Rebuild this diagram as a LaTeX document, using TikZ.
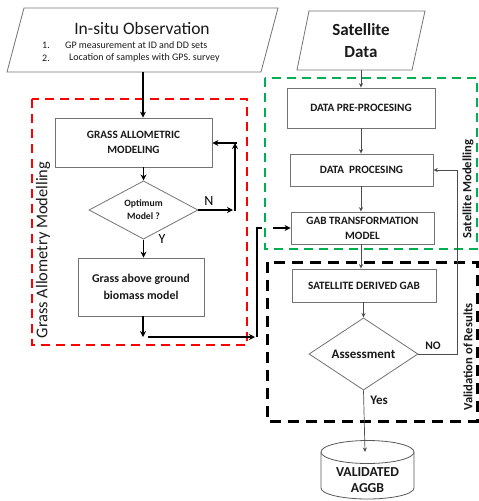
\documentclass[tikz,border=0pt]{standalone}
\usepackage{fontspec}
\setmainfont{Carlito}
\usetikzlibrary{shapes.geometric,arrows.meta}
\begin{document}
\begin{tikzpicture}[x=1pt,y=-1pt,
  box/.style={draw=black!55, line width=0.8pt, fill=white, align=center,
    font=\bfseries\fontsize{11.2}{13}\selectfont, text=black!90, inner sep=0},
  dec/.style={diamond, draw=black!55, line width=0.8pt, fill=white, align=center, inner sep=0, text=black!90},
  thickarr/.style={line width=1.8pt, -{Stealth[length=6pt,width=6pt]}},
  thickline/.style={line width=1.8pt},
  thinarr/.style={draw=black!70, line width=0.7pt, -{Stealth[length=4.5pt,width=4pt]}},
  grp/.style={line width=2.6pt, dash pattern=on 9pt off 6pt},
  lbl/.style={font=\bfseries\fontsize{12.6}{14}\selectfont, text=black!90},
]
\useasboundingbox (0,0) rectangle (479,501);
% group frames
\draw[grp, red] (32,99) rectangle (247,345);
\draw[grp, draw={rgb,255:red,0;green,176;blue,80}] (265,78) rectangle (477,249);
\draw[grp, black, line width=3pt, dash pattern=on 11pt off 7pt] (267,262) rectangle (477,421);
% group labels
\node[rotate=90, font=\fontsize{16.4}{18}\selectfont, text=black!90] (lgam) at (43,250) {Grass Allometry Modelling};
\node[rotate=90, lbl] (lsat) at (468,189) {Satellite Modelling};
\node[rotate=90, lbl] (lval) at (468,357) {Validation of Results};

% in-situ parallelogram
\draw[draw=black!55, line width=0.8pt] (24,8) -- (278,8) -- (261,72) -- (7,72) -- cycle;
\coordinate (insb) at (143,72);
\node[font=\fontsize{17.5}{20}\selectfont, text=black!90] (ins) at (142,28) {In-situ Observation};
\node[font=\fontsize{10}{12}\selectfont, text=black!90] (n1) at (46,45) {1.};
\node[font=\fontsize{10}{12}\selectfont, text=black!90] (n2) at (46,58) {2.};
\node[anchor=west, font=\fontsize{10}{12}\selectfont, text=black!90, inner sep=0] (t1) at (65,45) {GP measurement at ID and DD sets};
\node[anchor=west, font=\fontsize{10}{12}\selectfont, text=black!90, inner sep=0] (t2) at (69,58) {Location of samples with GPS. survey};

% satellite parallelogram
\draw[draw=black!55, line width=0.8pt] (309,11) -- (425,11) -- (412,70) -- (297,70) -- cycle;
\coordinate (satb) at (361,70);
\node[font=\bfseries\fontsize{17}{22}\selectfont, align=center, text=black!90] (sat) at (361,41) {Satellite\\Data};

% left column
\node[box, minimum width=157pt, minimum height=49pt, font=\bfseries\fontsize{11.2}{15}\selectfont] (gam) at (133.5,142.5) {GRASS ALLOMETRIC\\MODELING};
\node[dec, minimum width=109pt, minimum height=50pt, font=\bfseries\fontsize{9.7}{13}\selectfont] (opt) at (143.5,210) {Optimum\\Model ?};
\node[box, minimum width=126pt, minimum height=58pt, font=\bfseries\fontsize{11.9}{17}\selectfont] (gagb) at (141,287) {Grass above ground\\biomass model};

\draw[thickarr] (insb) -- (insb |- gam.north);
\draw[thickarr] (opt.north |- gam.south) -- (opt.north);
\coordinate (nr) at (233,210);
\coordinate (nup) at (235,143);
\draw[thickarr] (opt.east) -- (nr);
\draw[thickarr] (235,211) -- (nup);
\draw[thickarr] (237,143) -- (gam.east |- nup);
\node[font=\fontsize{14}{16}\selectfont] (N) at (209,201) {N};
\draw[thickarr] (opt.south) -- (opt.south |- gagb.north);
\node[font=\fontsize{14}{16}\selectfont] (Y) at (162,239) {Y};

\coordinate (c1) at (143,337);
\coordinate (c2) at (255,337);
\draw[thickarr] (gagb.south -| c1) -- (c1);
\draw[thickarr] (148,337) -- (c2);

% right column
\node[box, minimum width=148pt, minimum height=40pt] (pre) at (361,108) {DATA PRE-PROCESING};
\node[box, minimum width=143pt, minimum height=32pt] (proc) at (361.5,170) {DATA\ \ PROCESING};
\node[box, minimum width=143pt, minimum height=32pt, font=\bfseries\fontsize{11.2}{15}\selectfont] (gab) at (362.5,228) {GAB TRANSFORMATION\\MODEL};
\node[box, minimum width=144pt, minimum height=33pt] (sdg) at (364,285.5) {SATELLITE DERIVED GAB};
\node[dec, minimum width=109pt, minimum height=52pt, font=\bfseries\fontsize{13}{15}\selectfont] (ass) at (363.5,354) {Assessment};

\draw[thickline] (257,337) -- (257,228) -- (262,228);
\draw[thickarr] (273,228) -- (gab.west);

\draw[thinarr] (satb) -- (satb |- pre.north);
\draw[thinarr] (pre.south -| satb) -- (satb |- proc.north);
\draw[thinarr] (proc.south -| satb) -- (satb |- gab.north);
\draw[thinarr] (gab.south -| satb) -- (satb |- sdg.north);
\draw[thinarr] (ass.north |- sdg.south) -- (ass.north);
\coordinate (fb) at (457,354);
\draw[thinarr] (ass.east) -- (fb) |- (proc.east);
\node[font=\bfseries\fontsize{11.5}{13}\selectfont, text=black!90] (NO) at (433,346) {NO};

% cylinder
\draw[draw=black!65, line width=0.8pt, fill=white] (321,452) -- (321,488) arc[start angle=180, end angle=360, x radius=46.5, y radius=-11] -- (414,452);
\draw[draw=black!65, line width=0.8pt, fill=white] (367.5,452) ellipse[x radius=46.5, y radius=11.5];
\node[font=\bfseries\fontsize{13.7}{16}\selectfont, align=center, text=black!90] (val) at (367.5,480) {VALIDATED\\AGGB};
\coordinate (cyltop) at (365,452);
\draw[thinarr] (ass.south) -- (cyltop);
\node[font=\bfseries\fontsize{13}{15}\selectfont, text=black!90] (yes) at (379,400) {Yes};
\end{tikzpicture}
\end{document}
